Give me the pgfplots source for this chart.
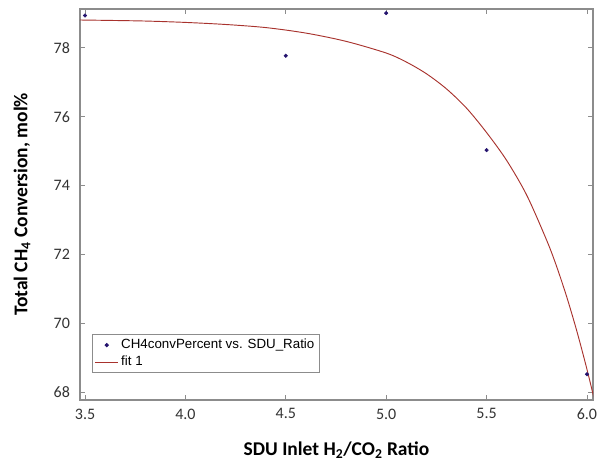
\documentclass[border=0pt]{standalone}
\usepackage{pgfplots}
\pgfplotsset{compat=1.18}
\usepackage{fontspec}
\setmainfont{Carlito}
\newfontfamily\arialf{Liberation Sans}
\definecolor{cPts}{HTML}{24136E}
\definecolor{cFit}{HTML}{A8322D}
\definecolor{cAx}{HTML}{8C8C8C}
\begin{document}
\begin{tikzpicture}
\begin{axis}[
    width=384.75pt, height=293.25pt, scale only axis,
    xmin=3.475, xmax=6.03, ymin=67.77, ymax=79.13,
    xtick={3.5,4.0,4.5,5.0,5.5,6.0},
    xticklabels={3.5,4.0,4.5,5.0,5.5,6.0},
    ytick={68,70,72,74,76,78},
    /pgf/number format/assume math mode=true,
    tick label style={font=\fontsize{12}{14}\selectfont, color=black!80},
    tick align=inside, major tick length=4pt,
    tick style={cAx, line width=0.6pt},
    axis line style={cAx, line width=1pt},
    xtick pos=both, ytick pos=both,
    xticklabel style={yshift=-3pt}, yticklabel style={xshift=-4pt},
    xlabel={\textbf{SDU Inlet H\textsubscript{2}/CO\textsubscript{2} Ratio}},
    ylabel={\textbf{Total CH\textsubscript{4} Conversion, mol\%}},
    label style={font=\fontsize{14.6}{16}\selectfont},
    xlabel style={at={(axis description cs:0.5,-0.128)}, anchor=center},
    ylabel style={at={(axis description cs:-0.113,0.5)}, anchor=center},
    legend style={font=\arialf\fontsize{10}{12}\selectfont, at={(0.023,0.069)}, anchor=south west,
        draw=cAx, line width=0.6pt, inner xsep=2pt, inner ysep=1.5pt, row sep=0pt},
    legend cell align=left,
    clip=true]
\addplot[only marks, mark=*, mark size=1.3pt, cPts] coordinates {
(3.5,78.94) (4.5,77.77) (5.0,79.01) (5.5,75.03) (6.0,68.52)};
\addlegendentry{CH4convPercent vs. SDU\_Ratio}
\addplot[cFit, line width=0.7pt, smooth, tension=0.5] coordinates {
(3.475,78.81) (3.6,78.80) (3.8,78.78) (4.0,78.74) (4.2,78.68) (4.4,78.59)
(4.6,78.43) (4.8,78.19) (5.0,77.85) (5.1,77.59) (5.2,77.25) (5.3,76.81)
(5.4,76.25) (5.5,75.54) (5.6,74.73) (5.7,73.72) (5.8,72.40) (5.85,71.63)
(5.9,70.75) (5.95,69.76) (6.0,68.66) (6.04,67.70)};
\addlegendentry{fit 1}
\end{axis}
\pgfresetboundingbox
\useasboundingbox (current axis.south west) ++(-60pt,-46.5pt) rectangle ([shift={(6pt,6.75pt)}]current axis.north east);
\end{tikzpicture}
\end{document}
